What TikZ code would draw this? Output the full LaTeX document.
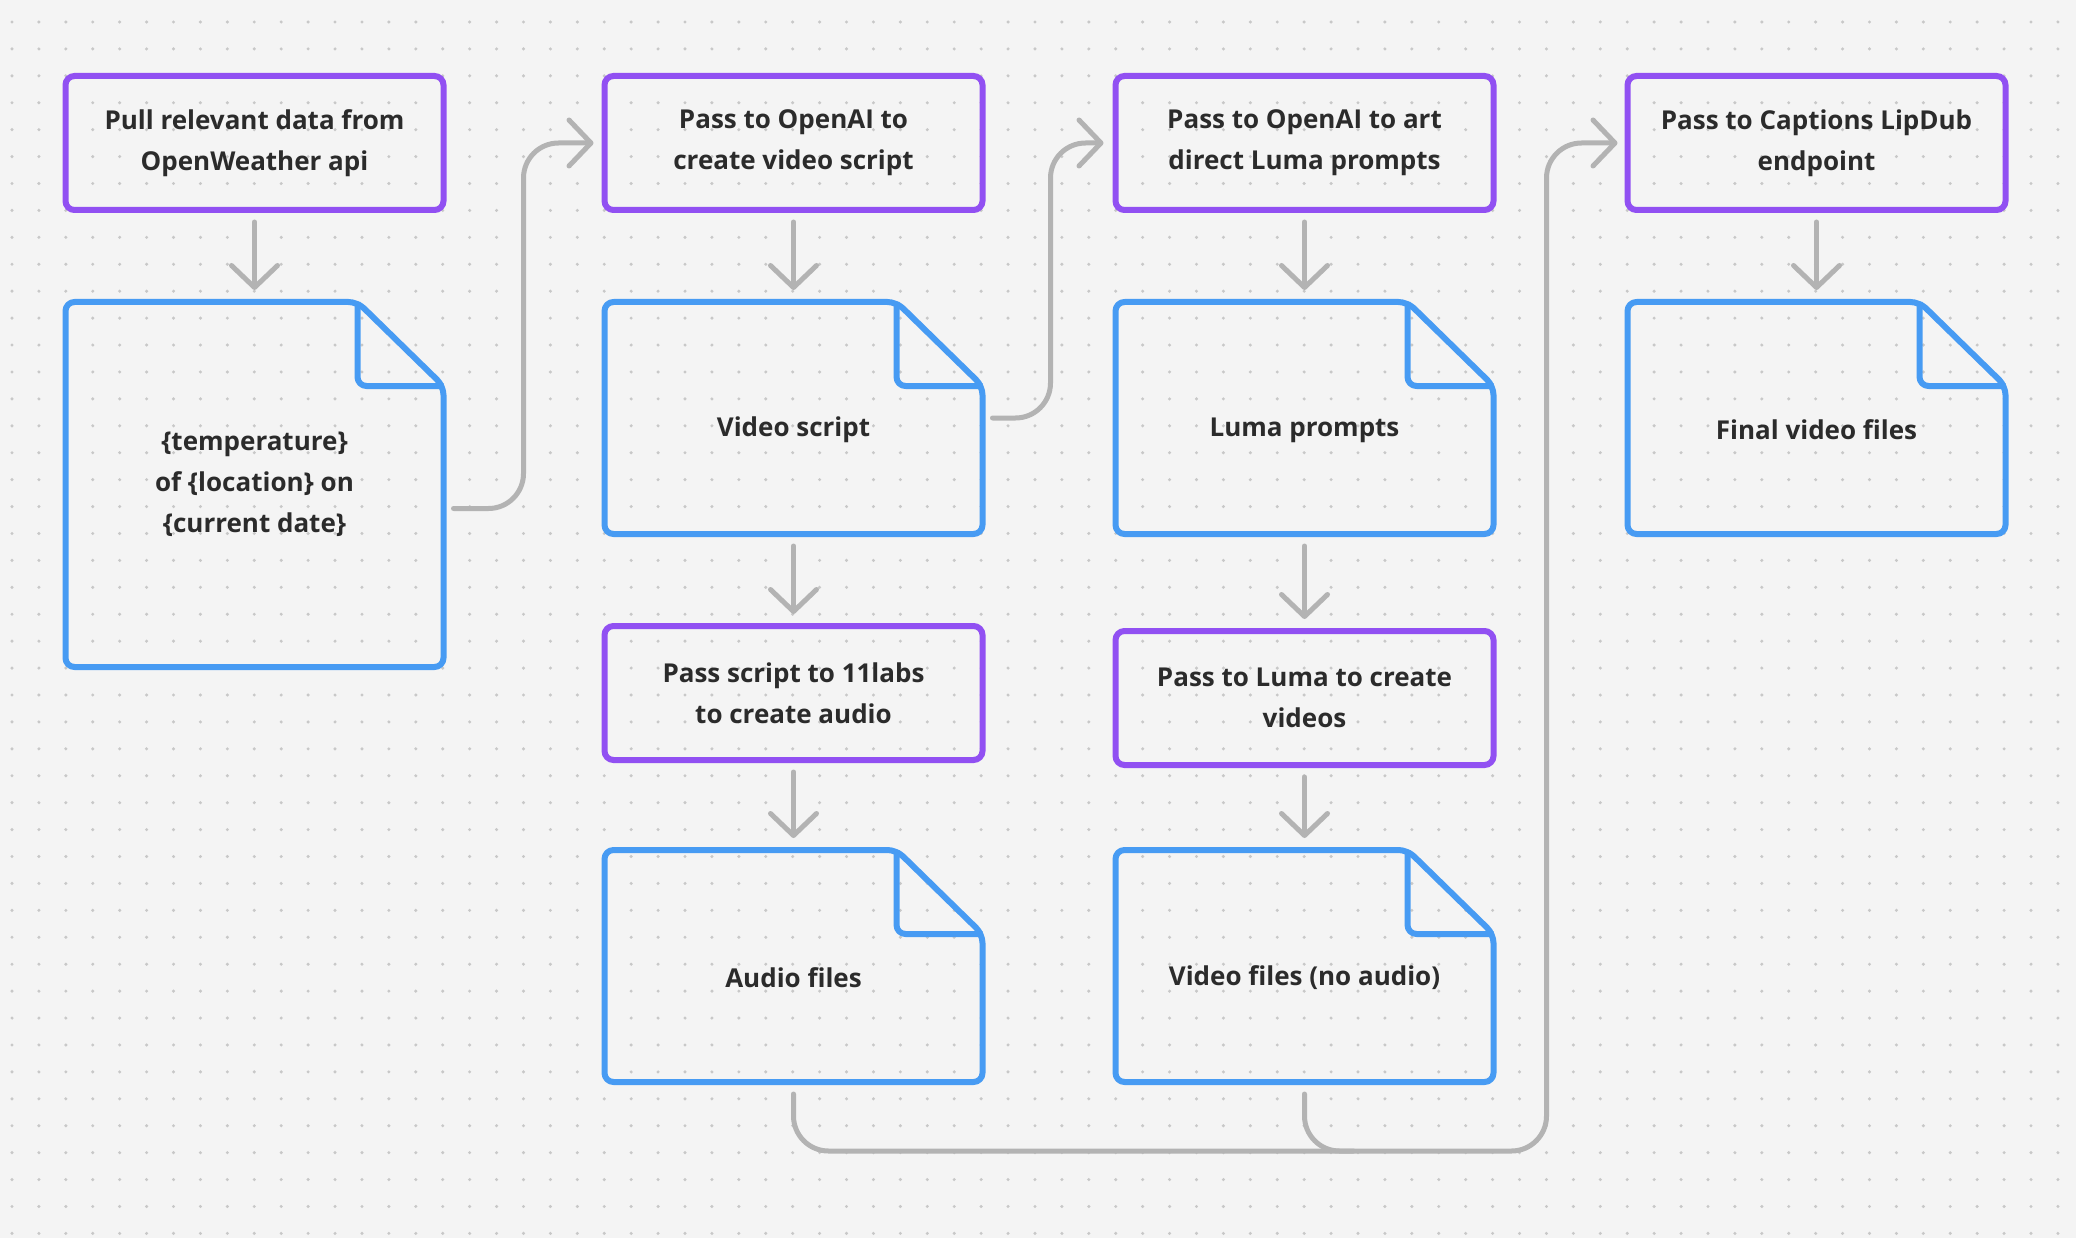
\documentclass[tikz,border=0pt]{standalone}
\usepackage{fontspec}
\setmainfont{Open Sans}
\usetikzlibrary{positioning}
\usetikzlibrary{arrows.meta}

\definecolor{bgcol}{HTML}{F4F4F4}
\definecolor{dotcol}{HTML}{C8C8C8}
\definecolor{stepcol}{HTML}{9150F2}
\definecolor{doccol}{HTML}{479BF3}
\definecolor{linkcol}{HTML}{B3B3B3}
\definecolor{txtcol}{HTML}{2B2B2B}

\tikzset{
  every node/.style={outer sep=0pt, text=txtcol, align=center,
    font=\fontsize{26}{41}\selectfont\bfseries},
  action/.style={draw=stepcol, line width=6pt, rounded corners=9pt,
    minimum width=378pt, minimum height=134pt},
  file/.style={minimum width=378pt, minimum height=232pt, text height=44pt},
  docline/.style={draw=doccol, line width=6pt, rounded corners=9pt, line join=round},
  link/.style={draw=linkcol, line width=5pt, line cap=round, rounded corners=35pt},
  flow/.style={link, -{Straight Barb[length=22pt,width=46pt,round]}},
}

\begin{document}
\begin{tikzpicture}[x=1pt,y=-1pt]
  \useasboundingbox[fill=bgcol] (0,0) rectangle (2076,1238);
  \foreach \i in {0,...,76}
    \foreach \j in {0,...,45}
      \fill[dotcol] ({12+26.92*\i},{22+26.92*\j}) circle (1.7pt);

  \node[action] (pull) at (254.5,143) {Pull relevant data from\\OpenWeather api};
  \node[file, minimum height=365pt, text height=, below=92pt of pull] (temp) {\{temperature\}\\of \{location\} on\\\{current date\}};
  \node[action, right=161pt of pull] (openai) {Pass to OpenAI to\\create video script};
  \node[file, below=92pt of openai] (vscript) {Video script};
  \node[action, below=92pt of vscript] (elevenlabs) {Pass script to 11labs\\to create audio};
  \node[file, below=90pt of elevenlabs] (audio) {Audio files};
  \node[action, right=133pt of openai] (artdirect) {Pass to OpenAI to art\\direct Luma prompts};
  \node[file, below=92pt of artdirect] (lprompts) {Luma prompts};
  \node[action, below=97pt of lprompts] (luma) {Pass to Luma to create\\videos};
  \node[file, below=85pt of luma] (vfiles) {Video files (no audio)};
  \node[action, right=134pt of artdirect] (captions) {Pass to Captions LipDub\\endpoint};
  \node[file, below=92pt of captions] (final) {Final video files};

  \foreach \f in {temp,vscript,audio,lprompts,vfiles,final}{
    \draw[docline] (\f.west) -- (\f.north west) -- ([xshift=-86pt]\f.north east)
      -- ([yshift=-84pt]\f.north east) -- (\f.south east) -- (\f.south west) -- cycle;
    \draw[docline] ([xshift=-86pt]\f.north east) |- ([yshift=-84pt]\f.north east);
  }

  \foreach \a/\b in {pull/temp,openai/vscript,vscript/elevenlabs,elevenlabs/audio,
                     artdirect/lprompts,lprompts/luma,luma/vfiles,captions/final}
    \draw[flow, shorten <=12pt, shorten >=12pt] (\a) -- (\b);

  \draw[flow] ([shift={(10pt,-24pt)}]temp.east) -| ([xshift=-81pt]openai.west) -- ([xshift=-11pt]openai.west);
  \draw[flow] ([xshift=10pt]vscript.east) -| ([xshift=-65pt]artdirect.west) -- ([xshift=-12pt]artdirect.west);

  \coordinate (bus) at ([yshift=-69pt]audio.south);
  \draw[flow] ([yshift=-12pt]audio.south) -- (bus) -| ([xshift=-81pt]captions.west) -- ([xshift=-10pt]captions.west);
  \draw[link] ([yshift=-12pt]vfiles.south) |- ([xshift=560pt]bus);
\end{tikzpicture}
\end{document}
